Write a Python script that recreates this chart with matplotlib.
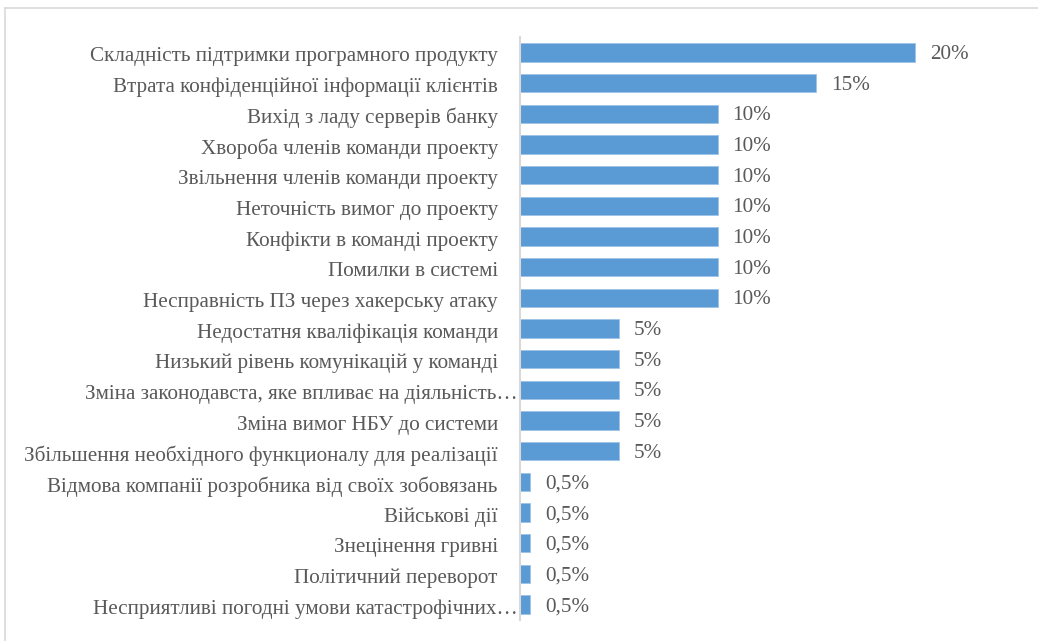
import numpy as np
import matplotlib.pyplot as plt
import matplotlib.transforms as mtrans
from matplotlib.lines import Line2D

labels = [
    'Складність підтримки програмного продукту',
    'Втрата конфіденційної інформації клієнтів',
    'Вихід з ладу серверів банку',
    'Хвороба членів команди проекту',
    'Звільнення членів команди проекту',
    'Неточність вимог до проекту',
    'Конфікти в команді проекту',
    'Помилки в системі',
    'Несправність ПЗ через хакерську атаку',
    'Недостатня кваліфікація команди',
    'Низький рівень комунікацій у команді',
    'Зміна законодавста, яке впливає на діяльність…',
    'Зміна вимог НБУ до системи',
    'Збільшення необхідного функционалу для реалізації',
    'Відмова компанії розробника від своїх зобовязань',
    'Військові дії',
    'Знецінення гривні',
    'Політичний переворот',
    'Несприятливі погодні умови катастрофічних…',
]
values = [20, 15, 10, 10, 10, 10, 10, 10, 10, 5, 5, 5, 5, 5, 0.5, 0.5, 0.5, 0.5, 0.5]
value_text = ['20%', '15%', '10%', '10%', '10%', '10%', '10%', '10%', '10%',
              '5%', '5%', '5%', '5%', '5%', '0,5%', '0,5%', '0,5%', '0,5%', '0,5%']

W, H = 1038, 641
plt.rcParams['font.family'] = ['Liberation Serif', 'DejaVu Serif']
fig = plt.figure(figsize=(W/100, H/100), dpi=100)

# outer frame (only top and left edges are visible)
fc = '#D9D9D9'
fig.lines.append(Line2D([5/W, 1], [1 - 7.5/H, 1 - 7.5/H], transform=fig.transFigure,
                        color=fc, lw=1.2))
fig.lines.append(Line2D([5/W, 5/W], [0, 1 - 7.5/H], transform=fig.transFigure,
                        color=fc, lw=1.2))

ax = fig.add_axes([520/W, 1 - 620/H, 490/W, (620 - 37)/H])
y = np.arange(len(labels))
ax.barh(y, values, height=0.6, color='#5B9BD5', edgecolor='#9DC3E6', linewidth=0.6)
ax.set_xlim(0, 490/19.75)
ax.set_ylim(len(labels) - 0.5, -0.5)
ax.set_yticks(y)
ax.set_yticklabels(labels, fontsize=15.2, color='#595959')
ax.tick_params(axis='y', length=0, pad=16)
ax.set_xticks([])
for s in ['top', 'right', 'bottom']:
    ax.spines[s].set_visible(False)
ax.spines['left'].set_color(fc)
ax.spines['left'].set_linewidth(1.5)

# truncated labels run up to the axis
for lab in ax.get_yticklabels():
    lab.set_transform(lab.get_transform() +
                      mtrans.ScaledTranslation(0, -2/100, fig.dpi_scale_trans))
    if lab.get_text().endswith('…'):
        lab.set_transform(lab.get_transform() +
                          mtrans.ScaledTranslation(20/100, 0, fig.dpi_scale_trans))

for yi, v, t in zip(y, values, value_text):
    ax.annotate(t, (v, yi), xytext=(15, -2), textcoords='offset pixels',
                va='center', ha='left', fontsize=15.2, color='#595959')

fig.savefig('out.png', dpi=100)
